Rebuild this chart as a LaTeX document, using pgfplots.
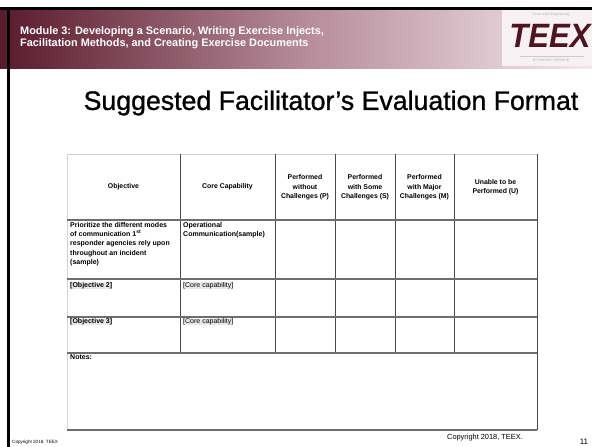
\documentclass[border=0pt]{standalone}
\usepackage{pgfplots}
\pgfplotsset{compat=1.18}
\usepackage{fontspec}
\setmainfont{Liberation Sans}
\newfontfamily\titlefont{Liberation Sans}[FakeBold=1.0]
\definecolor{maroon}{HTML}{5A1A2D}
\definecolor{midpink}{HTML}{B58A98}
\definecolor{pinkend}{HTML}{F4E8EC}
\definecolor{logoc}{HTML}{4E1424}
\definecolor{gridc}{HTML}{4A4A4A}
\definecolor{rowc}{HTML}{6E6E6E}
\begin{document}
\begin{tikzpicture}
\begin{axis}[width=592pt,height=447pt,scale only axis,
  xmin=0,xmax=592,ymin=0,ymax=447,y dir=reverse,
  hide axis,clip=false]
% background
\fill[white] (0,0) rectangle (592,447);
% header band
\shade[left color=maroon,right color=midpink] (0,10) rectangle (300,68);
\shade[left color=midpink,right color=pinkend] (300,10) rectangle (592,68);
\fill[pinkend!60!white] (502,10) rectangle (592,66);
% black frame lines
\fill[black] (0,7) rectangle (592,10);
\fill[black] (7,7) rectangle (10,447);
% header text
\node[anchor=west,text=white,align=left,inner sep=0pt,
  font=\bfseries\fontsize{10.9}{11.5}\selectfont] at (20,37.5)
  {Module 3: Developing a Scenario, Writing Exercise Injects,\\Facilitation Methods, and Creating Exercise Documents};
% logo
\node[text=gray!60,inner sep=0pt,font=\fontsize{3.5}{4}\selectfont] at (551,15) {Texas A\&M Engineering};
\node[text=logoc,inner sep=0pt,font=\bfseries\itshape\fontsize{27}{27}\selectfont,xscale=1.15,yscale=1.25] at (550,35.5) {TEEX};
\node[text=gray!60,inner sep=0pt,font=\fontsize{3.5}{4}\selectfont] at (551,60) {EXTENSION SERVICE};
\draw[gray!40,line width=0.4pt] (520,56) -- (584,56);
% title
\node[inner sep=0pt,font=\titlefont\fontsize{26.7}{30}\selectfont] at (331,103)
  {Suggested Facilitator’s Evaluation Format};
% ---- table ----
\draw[gray!35,line width=0.6pt] (67,430) -- (67,154) -- (537,154);
% column lines
\draw[gridc,line width=0.9pt] (180,154) -- (180,353);
\draw[gridc,line width=0.9pt] (275,154) -- (275,353);
\draw[gridc,line width=0.9pt] (335,154) -- (335,353);
\draw[gridc,line width=0.9pt] (395,154) -- (395,353);
\draw[gridc,line width=0.9pt] (454,154) -- (454,353);
\draw[gridc,line width=0.9pt] (537,154) -- (537,430);
% row lines
\draw[rowc,line width=1.5pt] (67,220) -- (537,220);
\draw[rowc,line width=1.5pt] (67,279) -- (537,279);
\draw[rowc,line width=1.5pt] (67,317) -- (537,317);
\draw[rowc,line width=1.5pt] (67,353) -- (537,353);
\draw[rowc,line width=1.5pt] (67,430) -- (537,430);
% header row text
\tikzset{hdr/.style={align=center,inner sep=0pt,font=\bfseries\fontsize{6.9}{9.5}\selectfont}}
\node[hdr] at (123.5,187) {Objective};
\node[hdr] at (227.5,187) {Core Capability};
\node[hdr] at (305,187.3) {Performed\\without\\Challenges (P)};
\node[hdr] at (365,187.3) {Performed\\with Some\\Challenges (S)};
\node[hdr] at (424.5,187.3) {Performed\\with Major\\Challenges (M)};
\node[hdr] at (495.5,187) {Unable to be\\Performed (U)};
% row 1
\tikzset{cell/.style={anchor=north west,align=left,inner sep=0pt,font=\bfseries\fontsize{7}{9.2}\selectfont}}
\node[cell] at (70,222.3) {Prioritize the different modes\\of communication 1\textsuperscript{st}\\responder agencies rely upon\\throughout an incident\\(sample)};
\node[cell] at (183,222.3) {Operational\\Communication(sample)};
% row 2, row 3
\node[cell,fill=gray!18] at (70,282) {[Objective 2]};
\node[cell,fill=gray!18,font=\fontsize{7}{9.2}\selectfont] at (183,282) {[Core capability]};
\node[cell,fill=gray!18] at (70,318.3) {[Objective 3]};
\node[cell,fill=gray!18,font=\fontsize{7}{9.2}\selectfont] at (183,318.3) {[Core capability]};
% notes
\node[cell] at (70,354.7) {Notes:};
% footers
\node[anchor=west,inner sep=0pt,font=\fontsize{4.6}{5}\selectfont] at (12,442) {Copyright 2018, TEEX};
\node[inner sep=0pt,font=\fontsize{7.4}{8}\selectfont] at (485,438) {Copyright 2018, TEEX.};
\node[inner sep=0pt,font=\fontsize{8}{9}\selectfont] at (584,442) {11};
\end{axis}
\pgfresetboundingbox
\path[use as bounding box] (current axis.south west) rectangle (current axis.north east);
\end{tikzpicture}
\end{document}
